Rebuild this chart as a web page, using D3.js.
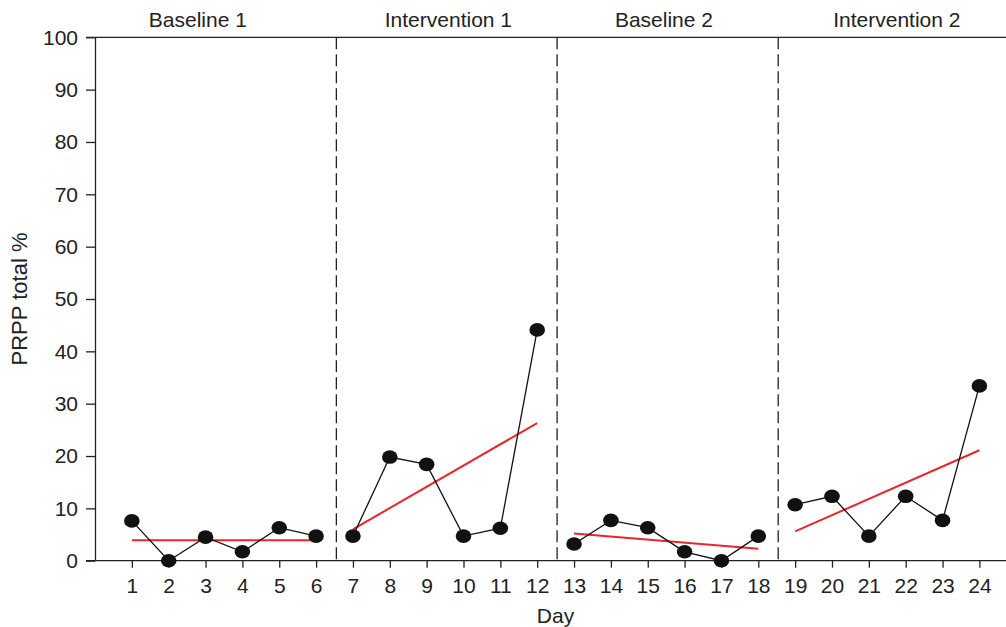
<!DOCTYPE html>
<html>
<head>
<meta charset="utf-8">
<script src="https://cdn.jsdelivr.net/npm/d3@7"></script>
<style>
  html, body { margin: 0; padding: 0; background: #fff; }
  svg { display: block; font-family: "Liberation Sans", Arial, Helvetica, sans-serif; }
</style>
</head>
<body>
<svg id="chart" width="1006" height="627"></svg>
<script>
// ---- Data ----
const days = [1,2,3,4,5,6,7,8,9,10,11,12,13,14,15,16,17,18,19,20,21,22,23,24];
const prpp = [7.6,0,4.5,1.7,6.3,4.7, 4.7,19.8,18.4,4.7,6.2,44.1, 3.2,7.7,6.3,1.7,0,4.7, 10.7,12.3,4.7,12.3,7.7,33.4];
const phaseNames = ["Baseline 1","Intervention 1","Baseline 2","Intervention 2"];
const phaseFirstDay = [1,7,13,19];
const phaseLastDay = [6,12,18,24];
const trendStart = [3.9,6.0,5.2,5.6];
const trendEnd = [3.9,26.3,2.3,21.1];
const phaseChanges = [6.55,12.54,18.54];
const phaseLabelAt = [2.79,9.59,15.44,21.76];
const yTicks = [0,10,20,30,40,50,60,70,80,90,100];

// ---- Layout ----
(function () {
const mLeft = 95, mRight = 1006, mTop = 37.3, mBottom = 560.7;
const svg = d3.select("#chart");
const ink = "#222";

const x = d3.scaleLinear().domain([0, (mRight - mLeft) / 36.85]).range([mLeft, mRight]);
const y = d3.scaleLinear().domain([0, 100]).range([mBottom, mTop]);

// Y axis
const yAxis = d3.axisLeft(y).tickValues(yTicks).tickSize(9).tickPadding(8).tickSizeOuter(0);
const gy = svg.append("g").attr("transform", `translate(${mLeft},0)`).call(yAxis);
gy.select(".domain").attr("stroke", ink).attr("stroke-width", 1.3);
gy.selectAll(".tick line").attr("stroke", ink).attr("stroke-width", 1.3);
gy.selectAll(".tick text").attr("fill", ink).style("font-size", "21px");

// X axis
const xAxis = d3.axisBottom(x).tickValues(days).tickSize(7).tickPadding(10).tickSizeOuter(0);
const gx = svg.append("g").attr("transform", `translate(0,${mBottom})`).call(xAxis);
gx.select(".domain").remove();
gx.selectAll(".tick line").attr("stroke", ink).attr("stroke-width", 1.3);
gx.selectAll(".tick text").attr("fill", ink).style("font-size", "21px");

// Bottom and top frame lines
svg.append("line").attr("x1", mLeft - 9).attr("x2", mRight).attr("y1", y(0)).attr("y2", y(0))
  .attr("stroke", ink).attr("stroke-width", 1.3);
svg.append("line").attr("x1", mLeft - 9).attr("x2", mRight).attr("y1", y(100)).attr("y2", y(100))
  .attr("stroke", ink).attr("stroke-width", 1.3);

// Phase change dashed lines
svg.selectAll(".phase").data(phaseChanges).enter().append("line")
  .attr("x1", d => x(d)).attr("x2", d => x(d))
  .attr("y1", y(100)).attr("y2", y(0))
  .attr("stroke", ink).attr("stroke-width", 1.3).attr("stroke-dasharray", "12,5");

// Phase labels
svg.selectAll(".plabel").data(phaseNames).enter().append("text")
  .attr("x", (d, i) => x(phaseLabelAt[i])).attr("y", 27)
  .attr("text-anchor", "middle").attr("fill", ink).style("font-size", "21px")
  .text(d => d);

// Axis titles
svg.append("text").attr("x", 555.5).attr("y", 623).attr("text-anchor", "middle")
  .attr("fill", ink).style("font-size", "21px").text("Day");
svg.append("text").attr("transform", `translate(27,${(mTop + mBottom) / 2}) rotate(-90)`)
  .attr("text-anchor", "middle").attr("fill", ink).style("font-size", "22px").text("PRPP total %");

// Trend lines
phaseNames.forEach((p, i) => {
  svg.append("line")
    .attr("x1", x(phaseFirstDay[i])).attr("x2", x(phaseLastDay[i]))
    .attr("y1", y(trendStart[i])).attr("y2", y(trendEnd[i]))
    .attr("stroke", "#e8262b").attr("stroke-width", 2);
});

// Data lines and points per phase
const line = d3.line().x(d => x(d[0])).y(d => y(d[1]));
phaseNames.forEach((p, i) => {
  const pts = [];
  days.forEach((d, j) => { if (d >= phaseFirstDay[i] && d <= phaseLastDay[i]) pts.push([d, prpp[j]]); });
  svg.append("path").datum(pts).attr("d", line).attr("fill", "none")
    .attr("stroke", "#111").attr("stroke-width", 1.3);
});
svg.selectAll(".pt").data(days).enter().append("ellipse")
  .attr("cx", d => x(d)).attr("cy", (d, j) => y(prpp[j]))
  .attr("rx", 7.8).attr("ry", 6.8).attr("fill", "#111");
})();
</script>
</body>
</html>
